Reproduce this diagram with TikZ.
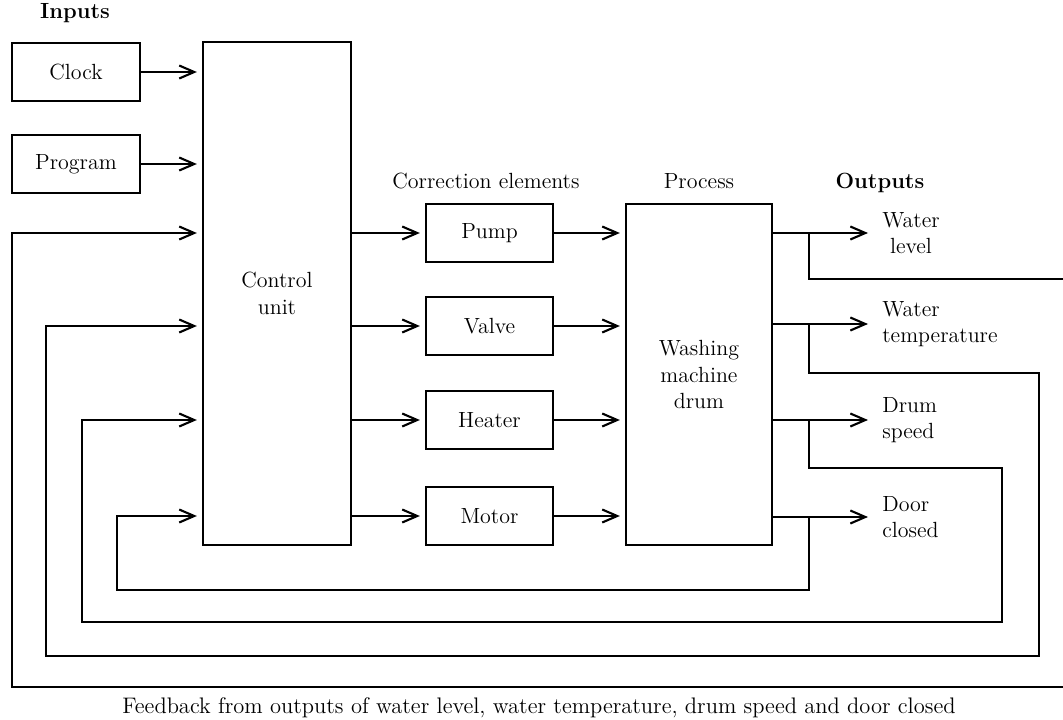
\documentclass[tikz,border=0pt]{standalone}
\usetikzlibrary{arrows.meta}
\begin{document}
\begin{tikzpicture}[x=0.02cm,y=-0.02cm,
  every node/.style={font=\fontsize{12.5}{15}\selectfont},
  box/.style={draw, line width=1pt, inner sep=0pt},
  ln/.style={line width=1pt},
  tip/.style={-{Straight Barb[length=0.3cm,width=0.26cm,line width=1.2pt]}},
  arr/.style={ln, tip, shorten >=3pt},
  arr2/.style={ln, tip},
  lbl/.style={font=\fontsize{12.5}{15}\selectfont\bfseries}]
\clip (0,0) rectangle (1063,720);
% inputs
\node[lbl] (inl) at (75,13) {Inputs};
\node[box, minimum width=2.56cm, minimum height=1.16cm] (clock) at (76,72) {Clock};
\node[box, minimum width=2.56cm, minimum height=1.16cm] (prog) at (76,164) {Program};
\node[box, minimum width=2.96cm, minimum height=10.06cm, align=center] (ctrl) at (277,293.5) {Control\\unit};
% correction elements
\node (cel) at (486,181) {Correction elements};
\node[box, minimum width=2.54cm, minimum height=1.16cm] (pump) at (489.5,233) {Pump};
\node[box, minimum width=2.54cm, minimum height=1.16cm] (valve) at (489.5,326) {Valve};
\node[box, minimum width=2.54cm, minimum height=1.16cm] (heater) at (489.5,420) {Heater};
\node[box, minimum width=2.54cm, minimum height=1.16cm] (motor) at (489.5,516) {Motor};
% process
\node (prl) at (699,181) {Process};
\node[box, minimum width=2.92cm, minimum height=6.82cm, align=center] (drum) at (699,374.5) {Washing\\machine\\drum};
% outputs
\node[lbl] (outl) at (880,183) {Outputs};
\coordinate (o1) at (868,233);
\coordinate (o2) at (868,324);
\coordinate (o3) at (868,420);
\coordinate (o4) at (868,517);
\node[anchor=west, align=center, inner sep=0pt] (l1) at (882,233) {Water\\level};
\node[anchor=west, align=left, inner sep=0pt] (l2) at (882,324) {Water\\temperature};
\node[anchor=west, align=left, inner sep=0pt] (l3) at (882,420) {Drum\\speed};
\node[anchor=west, align=left, inner sep=0pt] (l4) at (882,517) {Door\\closed};
% caption
\node[font=\fontsize{12.8}{15}\selectfont] (cap) at (539,708) {Feedback from outputs of water level, water temperature, drum speed and door closed};
% input arrows
\draw[arr] (clock) -- (ctrl.west |- clock);
\draw[arr] (prog) -- (ctrl.west |- prog);
% control to correction
\draw[arr] (ctrl.east |- pump) -- (pump);
\draw[arr] (ctrl.east |- valve) -- (valve);
\draw[arr] (ctrl.east |- heater) -- (heater);
\draw[arr] (ctrl.east |- motor) -- (motor);
% correction to drum
\draw[arr] (pump) -- (drum.west |- pump);
\draw[arr] (valve) -- (drum.west |- valve);
\draw[arr] (heater) -- (drum.west |- heater);
\draw[arr] (motor) -- (drum.west |- motor);
% outputs
\draw[arr2] (drum.east |- o1) -- (o1);
\draw[arr2] (drum.east |- o2) -- (o2);
\draw[arr2] (drum.east |- o3) -- (o3);
\draw[arr2] (drum.east |- o4) -- (o4);
% feedback branch points and corners
\coordinate (b1) at (809,233);
\coordinate (b2) at (809,324);
\coordinate (b3) at (809,420);
\coordinate (b4) at (809,517);
\coordinate (r1) at (1080,279);
\coordinate (r1b) at (1080,687);
\coordinate (c1) at (12,687);
\coordinate (r2) at (1039,373);
\coordinate (c2) at (46,656);
\coordinate (r3) at (1002,468);
\coordinate (c3) at (82,622);
\coordinate (c4) at (117,590);
\draw[ln] (b1) |- (r1);
\draw[arr] (r1b) -- (c1) |- (ctrl.west |- pump);
\draw[arr] (b2) |- (r2) |- (c2) |- (ctrl.west |- valve);
\draw[arr] (b3) |- (r3) |- (c3) |- (ctrl.west |- heater);
\draw[arr] (b4) |- (c4) |- (ctrl.west |- motor);
\end{tikzpicture}
\end{document}
